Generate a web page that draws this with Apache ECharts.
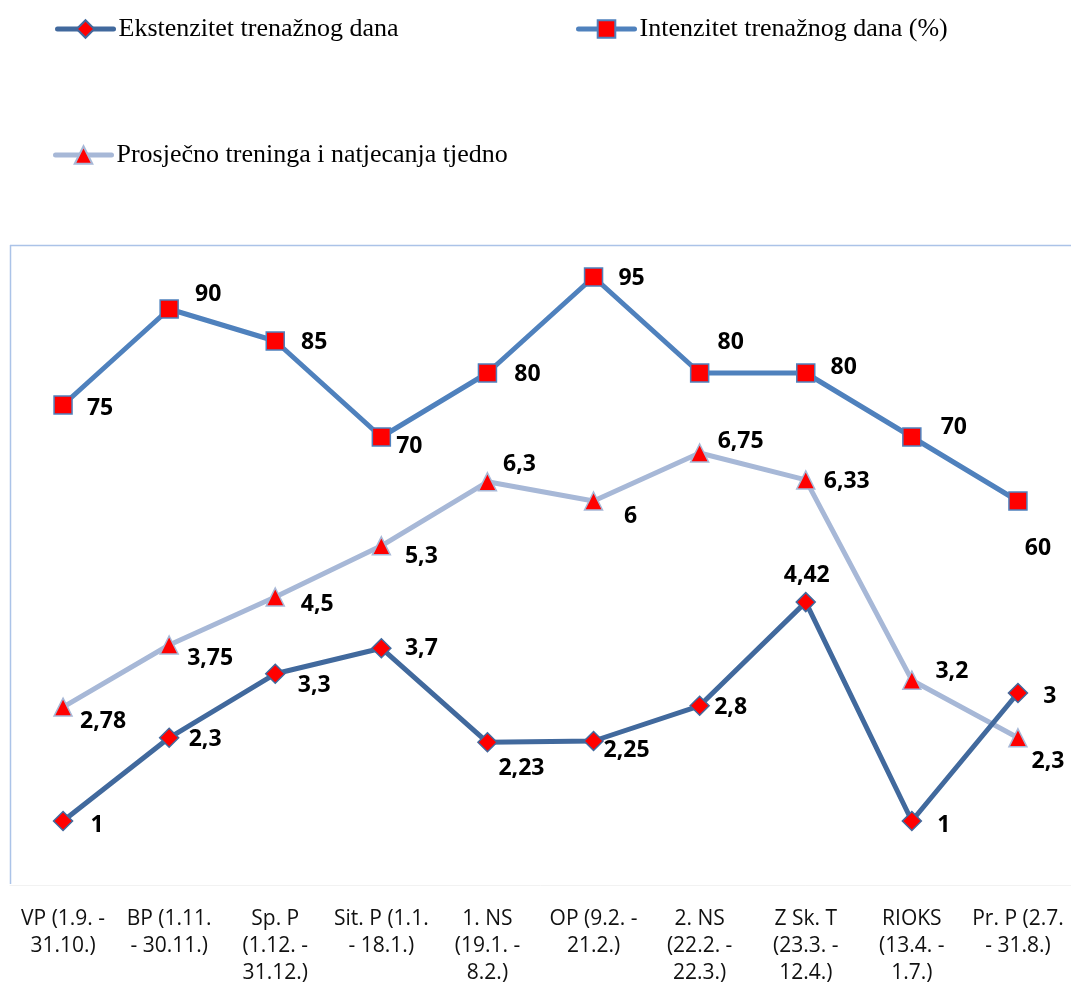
<!DOCTYPE html>
<html><head><meta charset="utf-8">
<script src="https://cdn.jsdelivr.net/npm/echarts@6/dist/echarts.min.js"></script>
<style>html,body{margin:0;padding:0;background:#fff}#c{width:1071px;height:996px}</style>
</head><body><div id="c"></div>
<script>
const categories = ["VP (1.9. -\n31.10.)","BP (1.11.\n- 30.11.)","Sp. P\n(1.12. -\n31.12.)","Sit. P (1.1.\n- 18.1.)","1. NS\n(19.1. -\n8.2.)","OP (9.2. -\n21.2.)","2. NS\n(22.2. -\n22.3.)","Z Sk. T\n(23.3. -\n12.4.)","RIOKS\n(13.4. -\n1.7.)","Pr. P (2.7.\n- 31.8.)"];
const ekstenzitet = [1, 2.3, 3.3, 3.7, 2.23, 2.25, 2.8, 4.42, 1, 3];
const intenzitet = [75, 90, 85, 70, 80, 95, 80, 80, 70, 60];
const prosjecno = [2.78, 3.75, 4.5, 5.3, 6.3, 6, 6.75, 6.33, 3.2, 2.3];
const names = ["Ekstenzitet trenažnog dana", "Intenzitet trenažnog dana (%)", "Prosječno treninga i natjecanja tjedno"];

// label offsets (styling only)
const offE = [[34,4],[36,2],[39,12],[40,0],[34,26],[33,9],[31,2],[1,-27],[32,4],[32,3]];
const offI = [[37,3],[39,-15],[39,1],[28,9],[40,1],[38,1],[31,-31],[38,-6],[42,-10],[20,47]];
const offP = [[40,14],[41,13],[42,7],[40,11],[32,-17],[37,15],[41,-12],[41,2],[40,-9],[30,24]];

const labelFont = {fontFamily: "'Open Sans', 'Liberation Sans', sans-serif", fontWeight: 'bold', fontSize: 23, color: '#000'};
function mk(vals, offs) {
  return vals.map((v, i) => ({value: v, label: {offset: offs[i]}}));
}
function fmt(p) { return String(p.value).replace('.', ','); }

const cE = '#41699D', cI = '#4F81BD', cP = '#A7B8D7';
const chart = echarts.init(document.getElementById('c'), null, {renderer: 'canvas'});
const legendText = {fontFamily: "'Liberation Serif', 'Times New Roman', serif", fontSize: 26, color: '#000'};
const legendCommon = {itemWidth: 56, itemHeight: 22, itemGap: 4, textStyle: legendText, padding: 0,
  lineStyle: {width: 5, cap: 'round'}};
chart.setOption({
  animation: false,
  legend: [
    Object.assign({data: [names[0]], left: 55, top: 16}, legendCommon),
    Object.assign({data: [names[1]], left: 576, top: 16}, legendCommon),
    Object.assign({data: [names[2]], left: 53, top: 142}, legendCommon)
  ],
  grid: {left: 10, right: 0, top: 245, bottom: 111, containLabel: false},
  xAxis: {
    type: 'category', data: categories, boundaryGap: true,
    axisLine: {show: true, lineStyle: {color: '#F2F2F2', width: 1}},
    axisTick: {show: false},
    axisLabel: {interval: 0, margin: 21, fontFamily: "'Open Sans', 'Liberation Sans', sans-serif", fontSize: 21, lineHeight: 27, color: '#111', verticalAlign: 'top'}
  },
  yAxis: [
    {type: 'value', min: 0, max: 10, interval: 1, show: false, splitLine: {show: false}},
    {type: 'value', min: 0, max: 100, interval: 10, show: false, splitLine: {show: false}}
  ],
  graphic: [
    {type: 'line', shape: {x1: 10.5, y1: 245, x2: 10.5, y2: 884}, style: {stroke: '#ABC3E8', lineWidth: 1.5}, silent: true},
    {type: 'line', shape: {x1: 10, y1: 245.5, x2: 1071, y2: 245.5}, style: {stroke: '#ABC3E8', lineWidth: 1.5}, silent: true}
  ],
  series: [
    {name: names[0], type: 'line', yAxisIndex: 0, data: mk(ekstenzitet, offE),
      lineStyle: {color: cE, width: 5}, itemStyle: {color: '#FF0000', borderColor: cE, borderWidth: 1.5},
      symbol: 'diamond', symbolSize: 19, z: 3,
      label: Object.assign({show: true, position: 'inside', formatter: fmt}, labelFont)},
    {name: names[1], type: 'line', yAxisIndex: 1, data: mk(intenzitet, offI),
      lineStyle: {color: cI, width: 5}, itemStyle: {color: '#FF0000', borderColor: cI, borderWidth: 1.5},
      symbol: 'rect', symbolSize: 18, z: 2,
      label: Object.assign({show: true, position: 'inside', formatter: fmt}, labelFont)},
    {name: names[2], type: 'line', yAxisIndex: 0, data: mk(prosjecno, offP),
      lineStyle: {color: cP, width: 5}, itemStyle: {color: '#FF0000', borderColor: cP, borderWidth: 1.5},
      symbol: 'triangle', symbolSize: 18, z: 2,
      label: Object.assign({show: true, position: 'inside', formatter: fmt}, labelFont)}
  ]
});
</script></body></html>
